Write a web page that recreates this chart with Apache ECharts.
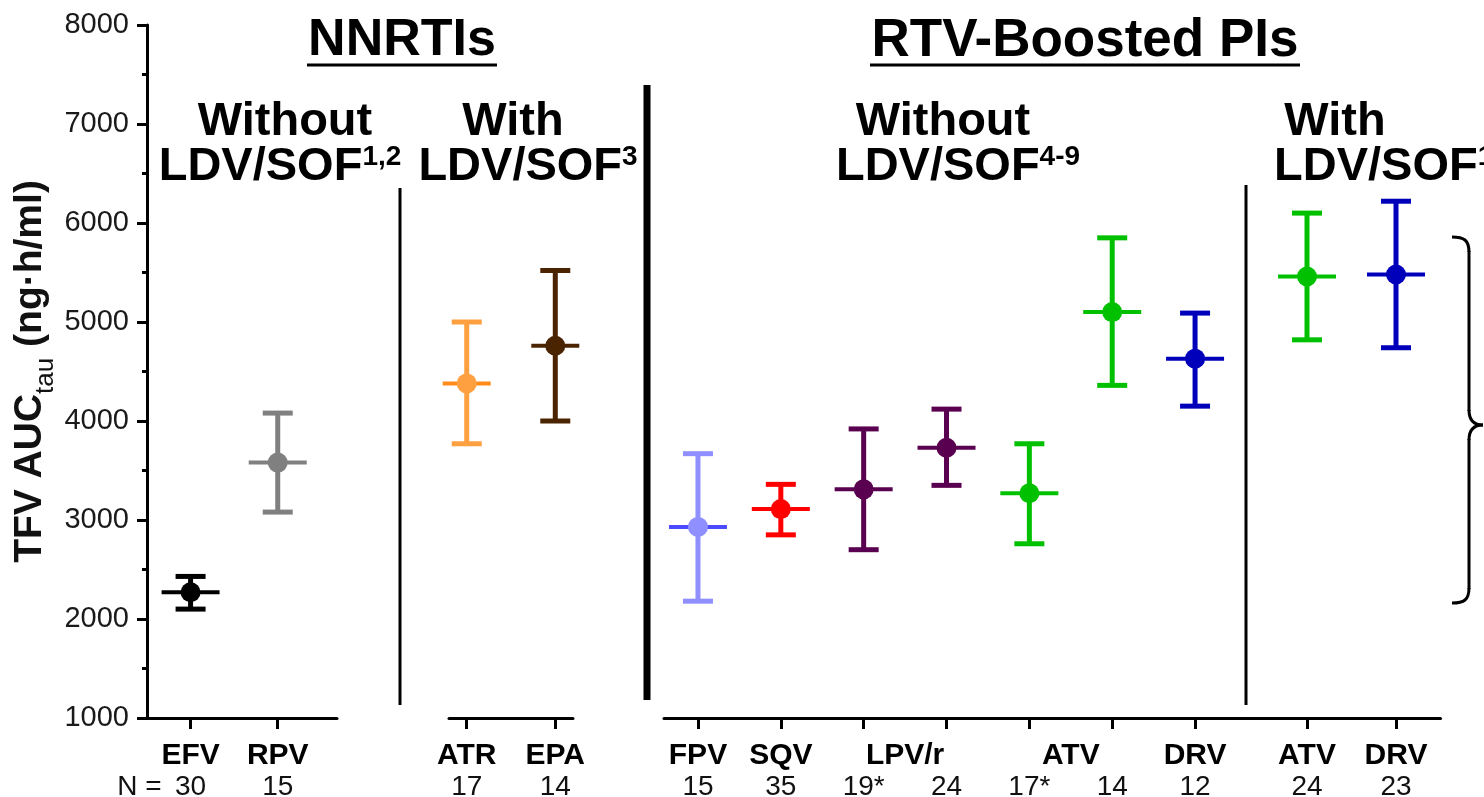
<!DOCTYPE html>
<html><head><meta charset="utf-8">
<script src="https://cdn.jsdelivr.net/npm/echarts@6/dist/echarts.min.js"></script>
<style>html,body{margin:0;padding:0;background:#fff}#c{width:1484px;height:797px}</style>
</head><body><div id="c"></div>
<script>
// ---------------- DATA ----------------
// NNRTIs without LDV/SOF
const nnrtiWithoutDrugs = ['EFV', 'RPV'];
const nnrtiWithoutN     = ['30', '15'];
const nnrtiWithoutMean  = [2270, 3580];
const nnrtiWithoutLow   = [2100, 3080];
const nnrtiWithoutHigh  = [2430, 4080];
// NNRTIs with LDV/SOF
const nnrtiWithDrugs = ['ATR', 'EPA'];
const nnrtiWithN     = ['17', '14'];
const nnrtiWithMean  = [4380, 4760];
const nnrtiWithLow   = [3770, 4000];
const nnrtiWithHigh  = [5000, 5520];
// RTV-boosted PIs without LDV/SOF
const piWithoutDrugs = ['FPV', 'SQV', 'LPV/r', 'LPV/r', 'ATV', 'ATV', 'DRV'];
const piWithoutN     = ['15', '35', '19*', '24', '17*', '14', '12'];
const piWithoutMean  = [2930, 3110, 3310, 3730, 3270, 5100, 4630];
const piWithoutLow   = [2180, 2850, 2700, 3350, 2760, 4360, 4150];
const piWithoutHigh  = [3670, 3360, 3920, 4120, 3770, 5850, 5090];
// RTV-boosted PIs with LDV/SOF
const piWithDrugs = ['ATV', 'DRV'];
const piWithN     = ['24', '23'];
const piWithMean  = [5460, 5480];
const piWithLow   = [4820, 4740];
const piWithHigh  = [6100, 6220];

const nPrefix = 'N =';
const yMin = 1000, yMax = 8000, yStep = 1000;

// ---------------- STYLE ----------------
const FONT = '"Liberation Sans", Arial, sans-serif';
const nnrtiWithoutColors = ['#000000', '#808080'];
const nnrtiWithColors = ['#ffa040', '#4a2300'];
const nnrtiWithMeanColors = ['#ff8c1a', '#4a2300'];
const piWithoutColors = ['#8f8fff', '#ff0000', '#5a0050', '#5a0050', '#00c000', '#00c000', '#0000bb'];
const piWithoutMeanColors = ['#4a4aff', '#ff0000', '#5a0050', '#5a0050', '#00c000', '#00c000', '#0000bb'];
const piWithColors = ['#00c000', '#0000bb'];

const groups = [
  {drugs: nnrtiWithoutDrugs, n: nnrtiWithoutN, mean: nnrtiWithoutMean, low: nnrtiWithoutLow, high: nnrtiWithoutHigh,
   colors: nnrtiWithoutColors, meanColors: nnrtiWithoutColors, meanHalf: 29,
   grid: {left: 147, width: 190}, xmin: -0.5, xmax: 1.68},
  {drugs: nnrtiWithDrugs, n: nnrtiWithN, mean: nnrtiWithMean, low: nnrtiWithLow, high: nnrtiWithHigh,
   colors: nnrtiWithColors, meanColors: nnrtiWithMeanColors, meanHalf: 24,
   grid: {left: 449, width: 124}, xmin: -0.2, xmax: 1.2},
  {drugs: piWithoutDrugs, n: piWithoutN, mean: piWithoutMean, low: piWithoutLow, high: piWithoutHigh,
   colors: piWithoutColors, meanColors: piWithoutMeanColors, meanHalf: 29,
   grid: {left: 664, width: 598.5}, xmin: -0.41, xmax: 6.814},
  {drugs: piWithDrugs, n: piWithN, mean: piWithMean, low: piWithLow, high: piWithHigh,
   colors: piWithColors, meanColors: piWithColors, meanHalf: 29,
   grid: {left: 1262.5, width: 178}, xmin: -0.5, xmax: 1.5}
];

function nameCenters(drugs) {
  const out = [];
  let s = 0;
  for (let i = 1; i <= drugs.length; i++) {
    if (i === drugs.length || drugs[i] !== drugs[s]) {
      out.push({v: (s + i - 1) / 2, name: drugs[s]});
      s = i;
    }
  }
  return out;
}

function makeRenderer(g) {
  return function (params, api) {
    const i = api.value(0);
    const pm = api.coord([i, api.value(1)]);
    const pl = api.coord([i, api.value(2)]);
    const ph = api.coord([i, api.value(3)]);
    const c = g.colors[params.dataIndex];
    const mc = g.meanColors[params.dataIndex];
    const cap = 15;
    return {type: 'group', children: [
      {type: 'line', shape: {x1: pl[0], y1: pl[1], x2: ph[0], y2: ph[1]}, style: {stroke: c, lineWidth: 5}},
      {type: 'line', shape: {x1: ph[0] - cap, y1: ph[1], x2: ph[0] + cap, y2: ph[1]}, style: {stroke: c, lineWidth: 5}},
      {type: 'line', shape: {x1: pl[0] - cap, y1: pl[1], x2: pl[0] + cap, y2: pl[1]}, style: {stroke: c, lineWidth: 5}},
      {type: 'line', shape: {x1: pm[0] - g.meanHalf, y1: pm[1], x2: pm[0] + g.meanHalf, y2: pm[1]}, style: {stroke: mc, lineWidth: 4}},
      {type: 'circle', shape: {cx: pm[0], cy: pm[1], r: 10}, style: {fill: c}}
    ]};
  };
}

const grids = [], xAxes = [], yAxes = [], series = [];
groups.forEach((g, gi) => {
  grids.push({left: g.grid.left, width: g.grid.width, top: 25, bottom: 79,
    containLabel: false, outerBoundsMode: 'none'});
  const idx = g.drugs.map((d, i) => i);
  const centers = nameCenters(g.drugs);
  xAxes.push({
    type: 'value', gridIndex: gi, min: g.xmin, max: g.xmax, position: 'bottom',
    axisLine: {show: true, onZero: false, lineStyle: {color: '#000', width: 3}},
    axisTick: {show: true, customValues: idx, length: 11, lineStyle: {color: '#000', width: 3}},
    splitLine: {show: false},
    axisLabel: {
      customValues: idx, margin: 55, fontSize: 28, color: '#111', fontFamily: FONT, lineHeight: 28,
      showMinLabel: true, showMaxLabel: true, hideOverlap: false,
      formatter: v => g.n[Math.round(v)]
    }
  });
  xAxes.push({
    type: 'value', gridIndex: gi, min: g.xmin, max: g.xmax, position: 'bottom',
    axisLine: {show: false, onZero: false}, axisTick: {show: false}, splitLine: {show: false},
    axisLabel: {
      customValues: centers.map(c => c.v), margin: 23, fontSize: 30, fontWeight: 'bold',
      color: '#000', fontFamily: FONT, lineHeight: 30, showMinLabel: true, showMaxLabel: true,
      formatter: v => { const c = centers.find(c => Math.abs(c.v - v) < 1e-6); return c ? c.name : ''; }
    }
  });
  if (gi === 0) {
    yAxes.push({
      type: 'value', gridIndex: gi, min: yMin, max: yMax, interval: yStep,
      axisLine: {show: true, onZero: false, lineStyle: {color: '#000', width: 3}},
      axisTick: {show: true, length: 10, lineStyle: {color: '#000', width: 3}},
      minorTick: {show: true, splitNumber: 2, length: 5, lineStyle: {color: '#000', width: 3}},
      splitLine: {show: false}, minorSplitLine: {show: false},
      axisLabel: {fontSize: 29, color: '#1a1a1a', margin: 18, fontFamily: FONT, formatter: v => String(v)},
      name: '{b|TFV AUC}{s|tau}{b| (ng·h/ml)}',
      nameLocation: 'middle', nameGap: 88, nameMoveOverlap: false,
      nameTextStyle: {
        fontFamily: FONT,
        rich: {
          b: {fontSize: 39, fontWeight: 'bold', color: '#111', fontFamily: FONT, padding: [0, 0, 9, 0]},
          s: {fontSize: 26, color: '#111', fontFamily: FONT, verticalAlign: 'bottom'}
        }
      }
    });
  } else {
    yAxes.push({type: 'value', gridIndex: gi, min: yMin, max: yMax, interval: yStep, show: false});
  }
  series.push({
    type: 'custom', xAxisIndex: gi * 2, yAxisIndex: gi, clip: false,
    renderItem: makeRenderer(g),
    data: g.drugs.map((d, i) => [i, g.mean[i], g.low[i], g.high[i]])
  });
});
// "N =" prefix, right-aligned to the left of the first count
xAxes.push({
  type: 'value', gridIndex: 0, min: groups[0].xmin, max: groups[0].xmax, position: 'bottom',
  axisLine: {show: false, onZero: false}, axisTick: {show: false}, splitLine: {show: false},
  axisLabel: {
    customValues: [0], margin: 55, fontSize: 28, color: '#111', fontFamily: FONT, lineHeight: 28,
    align: 'right', padding: [0, 29, 0, 0], showMinLabel: true, formatter: () => nPrefix
  }
});

function txt(x, y, text, size, align, rich) {
  return {type: 'text', x: x, y: y, z: 10, style: {
    text: text, fontSize: size, fontWeight: 'bold', fontFamily: FONT, fill: '#000',
    align: align || 'center', verticalAlign: 'middle', rich: rich
  }};
}
function ln(x1, y1, x2, y2, w) {
  return {type: 'line', shape: {x1: x1, y1: y1, x2: x2, y2: y2}, style: {stroke: '#000', lineWidth: w}};
}
function bz(x1, y1, cx1, cy1, cx2, cy2, x2, y2) {
  return {type: 'bezierCurve', shape: {x1: x1, y1: y1, cpx1: cx1, cpy1: cy1, cpx2: cx2, cpy2: cy2, x2: x2, y2: y2},
    style: {stroke: '#000', lineWidth: 3, fill: null}};
}
const supRich = {
  m: {fontSize: 47, fontWeight: 'bold', fontFamily: FONT, fill: '#000', color: '#000'},
  s: {fontSize: 28, fontWeight: 'bold', fontFamily: FONT, fill: '#000', color: '#000', verticalAlign: 'top'}
};

const graphics = [
  // headers
  txt(402, 41, 'NNRTIs', 52),
  ln(307, 65, 497, 65, 3),
  txt(1085, 41, 'RTV-Boosted PIs', 53),
  ln(870, 65, 1300, 65, 3),
  txt(285, 122, 'Without', 47),
  txt(280, 167, '{m|LDV/SOF}{s|1,2}', 47, 'center', supRich),
  txt(513, 122, 'With', 47),
  txt(528, 167, '{m|LDV/SOF}{s|3}', 47, 'center', supRich),
  txt(943, 122, 'Without', 47),
  txt(958, 167, '{m|LDV/SOF}{s|4-9}', 47, 'center', supRich),
  txt(1335, 122, 'With', 47),
  txt(1274, 167, '{m|LDV/SOF}{s|10}', 47, 'left', supRich),
  // separators
  ln(400, 188, 400, 705, 3),
  ln(647, 85, 647, 700, 7),
  ln(1246, 185, 1246, 705, 3),
  // brace
  bz(1452, 237, 1464, 237, 1469, 240, 1469, 252),
  ln(1469, 251, 1469, 411, 3),
  bz(1469, 410, 1469, 420, 1474, 425, 1483, 425),
  bz(1483, 425, 1474, 425, 1469, 430, 1469, 440),
  ln(1469, 439, 1469, 589, 3),
  bz(1469, 588, 1469, 600, 1464, 603, 1452, 603)
];

const chart = echarts.init(document.getElementById('c'), null, {renderer: 'canvas'});
chart.setOption({
  animation: false,
  backgroundColor: '#fff',
  textStyle: {fontFamily: FONT},
  grid: grids, xAxis: xAxes, yAxis: yAxes, series: series,
  graphic: {elements: graphics}
});
</script></body></html>
